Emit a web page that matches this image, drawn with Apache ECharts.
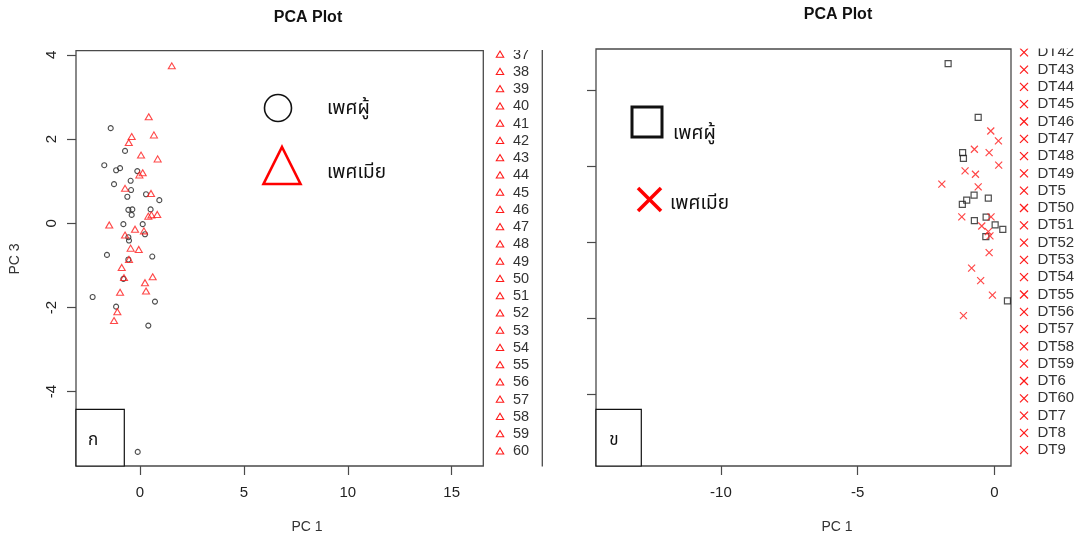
<!DOCTYPE html>
<html><head><meta charset="utf-8">
<script src="https://cdn.jsdelivr.net/npm/echarts@6/dist/echarts.min.js"></script>
<style>html,body{margin:0;padding:0;background:#fff}#c{width:1081px;height:538px}</style>
</head><body><div id="c"></div>
<script>
// ---- data ----
const leftMale = [
 [-1.41,2.26],[-0.72,1.72],[-1.72,1.38],[-1.15,1.26],[-0.96,1.31],[-0.13,1.24],[-0.45,1.01],[-1.25,0.93],
 [-0.43,0.79],[-0.61,0.63],[0.29,0.69],[0.93,0.55],[-0.56,0.32],[-0.37,0.33],[-0.40,0.20],[0.51,0.33],
 [-0.80,-0.02],[0.13,-0.02],[0.24,-0.26],[-0.56,-0.33],[-0.53,-0.41],[-1.59,-0.75],[0.59,-0.79],[-0.56,-0.86],
 [-0.80,-1.32],[-2.28,-1.75],[0.72,-1.86],[-1.15,-1.98],[0.40,-2.43],[-0.11,-5.43]];
const leftFemale = [
 [1.53,3.74],[0.42,2.53],[0.67,2.10],[-0.40,2.06],[-0.54,1.92],[0.05,1.62],[0.85,1.53],[-0.03,1.15],
 [0.13,1.20],[-0.72,0.83],[0.53,0.71],[0.40,0.17],[0.55,0.20],[0.83,0.21],[-1.48,-0.04],[-0.24,-0.14],
 [0.19,-0.18],[-0.72,-0.28],[-0.45,-0.59],[-0.06,-0.62],[-0.53,-0.86],[-0.88,-1.05],[-0.77,-1.29],[0.61,-1.27],
 [0.24,-1.41],[0.29,-1.61],[-0.96,-1.64],[-1.09,-2.10],[-1.25,-2.31]];
const rightMale = [
 [-1.69,4.70],[-0.59,3.29],[-1.16,2.36],[-1.13,2.21],[-0.74,1.24],[-1.01,1.11],[-1.17,1.00],[-0.22,1.16],
 [-0.73,0.57],[-0.30,0.66],[0.03,0.46],[0.31,0.34],[-0.31,0.15],[0.48,-1.54]];
const rightFemale = [
 [-0.13,2.93],[0.15,2.67],[-0.73,2.45],[-0.19,2.36],[0.16,2.03],[-1.07,1.88],[-0.69,1.79],[-1.92,1.53],
 [-0.59,1.46],[-1.19,0.67],[-0.12,0.67],[-0.46,0.43],[-0.22,0.28],[-0.16,0.17],[-0.19,-0.27],[-0.83,-0.68],
 [-0.50,-1.01],[-0.07,-1.39],[-1.13,-1.93]];
const leftXTicks = [0, 5, 10, 15];
const leftYTicks = [-4, -2, 0, 2, 4];
const rightXTicks = [-10, -5, 0];
const rightYTicks = [-4, -2, 0, 2, 4];
const leftLegendLabels = ['37','38','39','40','41','42','43','44','45','46','47','48','49','50','51','52','53','54','55','56','57','58','59','60'];
const rightLegendLabels = ['DT42','DT43','DT44','DT45','DT46','DT47','DT48','DT49','DT5','DT50','DT51','DT52','DT53','DT54','DT55','DT56','DT57','DT58','DT59','DT6','DT60','DT7','DT8','DT9'];
const titleText = 'PCA Plot';
const xName = 'PC 1';
const yName = 'PC 3';
const maleText = 'เพศผู้';
const femaleText = 'เพศเมีย';
const panelTags = ['ก', 'ข'];

// ---- styling / layout ----
const FONT = '"Liberation Sans", Arial, sans-serif';
const THAI = '"Noto Sans Thai", "Noto Sans", "DejaVu Sans", sans-serif';
const RED = '#ff1a1a';
const BLK = '#222';
const AX = '#4a4a4a';

function axisCommon(ticks, showLabel, rotate, margin) {
  return {
    type: 'value', scale: true,
    splitLine: {show: false},
    axisLine: {show: false, onZero: false},
    axisTick: {show: true, length: 9, customValues: ticks, lineStyle: {color: AX, width: 1.2}},
    axisLabel: {show: showLabel, customValues: ticks, rotate: rotate, margin: margin,
      color: '#222', fontSize: 15, fontFamily: FONT, formatter: v => String(v).replace('−','-')}
  };
}

const graphic = [];
// titles and axis names
graphic.push({type:'text', x: 308, y: 18, style:{text: titleText, font: 'bold 16px '+FONT, fill:'#111', align:'center', verticalAlign:'middle'}});
graphic.push({type:'text', x: 838, y: 15, style:{text: titleText, font: 'bold 16px '+FONT, fill:'#111', align:'center', verticalAlign:'middle'}});
graphic.push({type:'text', x: 307, y: 527, style:{text: xName, font: '14px '+FONT, fill:'#333', align:'center', verticalAlign:'middle'}});
graphic.push({type:'text', x: 837, y: 527, style:{text: xName, font: '14px '+FONT, fill:'#333', align:'center', verticalAlign:'middle'}});
graphic.push({type:'text', x: 15.5, y: 259, rotation: Math.PI/2, style:{text: yName, font: '14px '+FONT, fill:'#333', align:'center', verticalAlign:'middle'}});

// in-plot legends (left)
graphic.push({type:'circle', shape:{cx: 278, cy: 108, r: 13.5}, style:{fill:'none', stroke:'#111', lineWidth: 1.6}});
graphic.push({type:'polygon', shape:{points:[[282,147],[300.5,184],[263.5,184]]}, style:{fill:'none', stroke:'#ff0000', lineWidth: 2.6}});
graphic.push({type:'text', x: 327, y: 110, style:{text: maleText, font: '19px '+THAI, fill:'#111', verticalAlign:'middle'}});
graphic.push({type:'text', x: 327, y: 174, style:{text: femaleText, font: '19px '+THAI, fill:'#111', verticalAlign:'middle'}});
// in-plot legends (right)
graphic.push({type:'rect', shape:{x: 632, y: 107, width: 30, height: 30}, style:{fill:'none', stroke:'#111', lineWidth: 3}});
graphic.push({type:'polyline', shape:{points:[[638,188],[661,211]]}, style:{stroke:'#ff0000', lineWidth: 3.6}});
graphic.push({type:'polyline', shape:{points:[[661,188],[638,211]]}, style:{stroke:'#ff0000', lineWidth: 3.6}});
graphic.push({type:'text', x: 673, y: 135, style:{text: maleText, font: '19px '+THAI, fill:'#111', verticalAlign:'middle'}});
graphic.push({type:'text', x: 670, y: 205, style:{text: femaleText, font: '19px '+THAI, fill:'#111', verticalAlign:'middle'}});

// panel tag boxes
graphic.push({type:'rect', shape:{x: 76, y: 409.3, width: 48.3, height: 56.7}, style:{fill:'#fff', stroke:'#111', lineWidth: 1.2}});
graphic.push({type:'text', x: 93, y: 442, style:{text: panelTags[0], font: '17px '+THAI, fill:'#111', align:'center', verticalAlign:'middle'}});
graphic.push({type:'rect', shape:{x: 596, y: 409.3, width: 45.3, height: 56.7}, style:{fill:'#fff', stroke:'#111', lineWidth: 1.2}});
graphic.push({type:'text', x: 614, y: 442, style:{text: panelTags[1], font: '17px '+THAI, fill:'#111', align:'center', verticalAlign:'middle'}});

// outside sample-label legends
leftLegendLabels.forEach((lab, i) => {
  const y = 54.5 + i * 17.25;
  graphic.push({type:'polygon', shape:{points:[[500, y-3.5],[503.7, y+2.8],[496.3, y+2.8]]}, style:{fill:'none', stroke: RED, lineWidth: 1.1}});
  graphic.push({type:'text', x: 513, y: y, style:{text: lab, font: '14.5px '+FONT, fill:'#333', verticalAlign:'middle'}});
});
rightLegendLabels.forEach((lab, i) => {
  const y = 52.3 + i * 17.3;
  graphic.push({type:'polyline', shape:{points:[[1020, y-4],[1028, y+4]]}, style:{stroke: RED, lineWidth: 1.2}});
  graphic.push({type:'polyline', shape:{points:[[1028, y-4],[1020, y+4]]}, style:{stroke: RED, lineWidth: 1.2}});
  graphic.push({type:'text', x: 1037.5, y: y, style:{text: lab, font: '15px '+FONT, fill:'#333', verticalAlign:'middle'}});
});
// clip the legend tops (they run past the upper edge in the reference)
graphic.push({type:'rect', z: 100, shape:{x: 486, y: 0, width: 54, height: 50}, style:{fill:'#fff'}});
graphic.push({type:'rect', z: 100, shape:{x: 1013, y: 0, width: 68, height: 48.5}, style:{fill:'#fff'}});
// legend box edge line between panels
graphic.push({type:'line', shape:{x1: 542.3, y1: 50, x2: 542.3, y2: 466.5}, style:{stroke: AX, lineWidth: 1.3}});

const crossPath = 'path://M0,0L10,10M0,10L10,0';

const option = {
  animation: false,
  backgroundColor: '#fff',
  grid: [
    {left: 76, top: 50.7, width: 407.3, height: 415.3, show: true, borderColor: AX, borderWidth: 1.3, backgroundColor: 'transparent'},
    {left: 596, top: 49, width: 415, height: 417, show: true, borderColor: AX, borderWidth: 1.3, backgroundColor: 'transparent'}
  ],
  xAxis: [
    Object.assign(axisCommon(leftXTicks, true, 0, 19), {gridIndex: 0, min: -3.08, max: 16.52}),
    Object.assign(axisCommon(rightXTicks, true, 0, 19), {gridIndex: 1, min: -14.57, max: 0.61})
  ],
  yAxis: [
    Object.assign(axisCommon(leftYTicks, true, 90, 17), {gridIndex: 0, min: -5.765, max: 4.10}),
    Object.assign(axisCommon(rightYTicks, false, 90, 17), {gridIndex: 1, min: -5.887, max: 5.087})
  ],
  series: [
    {type:'scatter', xAxisIndex:0, yAxisIndex:0, data: leftMale, symbol:'circle', symbolSize: 5,
     itemStyle:{color:'rgba(0,0,0,0)', borderColor: BLK, borderWidth: 1.1}},
    {type:'scatter', xAxisIndex:0, yAxisIndex:0, data: leftFemale, symbol:'triangle', symbolSize: [7,6],
     itemStyle:{color:'rgba(0,0,0,0)', borderColor: RED, borderWidth: 1.1}},
    {type:'scatter', xAxisIndex:1, yAxisIndex:1, data: rightMale, symbol:'rect', symbolSize: 6,
     itemStyle:{color:'rgba(0,0,0,0)', borderColor: BLK, borderWidth: 1.2}},
    {type:'scatter', xAxisIndex:1, yAxisIndex:1, data: rightFemale, symbol: crossPath, symbolSize: 7,
     itemStyle:{color:'rgba(0,0,0,0)', borderColor: RED, borderWidth: 1.2}}
  ],
  graphic: graphic
};
const chart = echarts.init(document.getElementById('c'), null, {renderer: 'canvas'});
chart.setOption(option);
</script></body></html>
